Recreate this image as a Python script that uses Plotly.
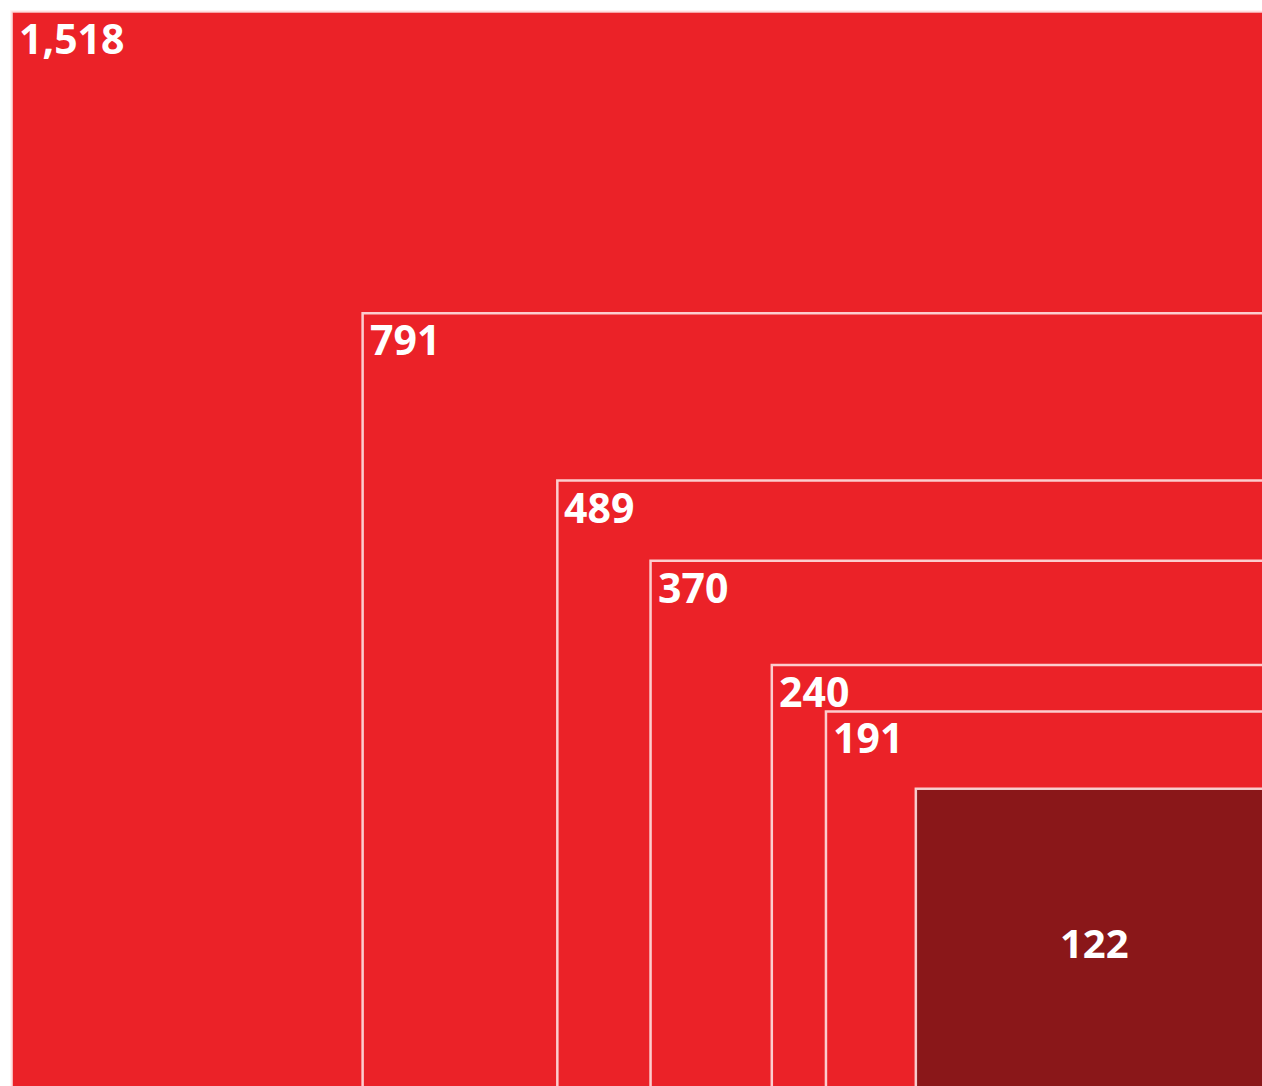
import numpy as np
import plotly.graph_objects as go

# Data
labels = ["1,518", "791", "489", "370", "240", "191", "122"]
values = [1518, 791, 489, 370, 240, 191, 122]
highlight = [False, False, False, False, False, False, True]

RED = "#EB2228"
DARK = "#8A1719"
LINE = "rgba(255,235,235,0.85)"

fig = go.Figure()
sides = np.sqrt(np.array(values, dtype=float))

for lab, side, hl in zip(labels, sides, highlight):
    fig.add_shape(type="rect", xref="x", yref="y",
                  x0=-side, x1=0, y0=0, y1=side,
                  fillcolor=DARK if hl else RED,
                  line=dict(color=LINE, width=2.5), layer="above")
    if hl:
        fig.add_annotation(x=-side / 2, y=side / 2, text=f"<b>{lab}</b>",
                           showarrow=False, xanchor="center", yanchor="middle",
                           font=dict(family="Open Sans", size=40, color="white"))
    else:
        fig.add_annotation(x=-side, y=side, text=f"<b>{lab}</b>",
                           showarrow=False, xanchor="left", yanchor="top",
                           xshift=5, yshift=4,
                           font=dict(family="Open Sans", size=41, color="white"))

fig.add_trace(go.Scatter(x=[None], y=[None], showlegend=False))

fig.update_xaxes(range=[-39.32, -0.358], visible=False, fixedrange=True)
fig.update_yaxes(range=[0.366, 39.375], visible=False, fixedrange=True)
fig.update_layout(width=1262, height=1086, margin=dict(l=0, r=0, t=0, b=0),
                  paper_bgcolor="white", plot_bgcolor="white", showlegend=False)

fig.write_html("out.html", config={"displayModeBar": False},
               post_script="document.body.style.margin='0';"
                           "document.body.style.overflow='hidden';"
                           "document.documentElement.style.overflow='hidden';")
